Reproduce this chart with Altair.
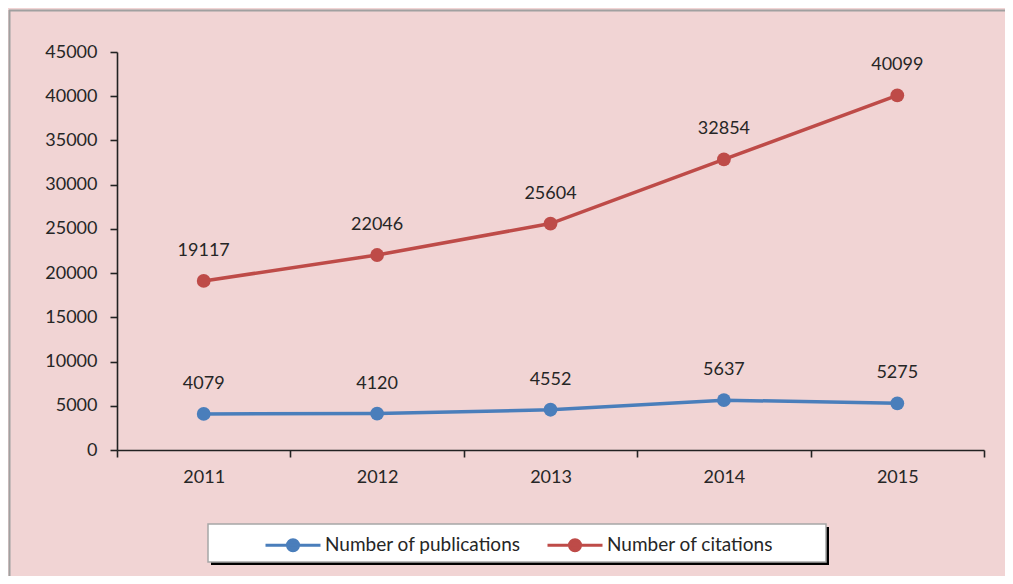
import altair as alt
import pandas as pd

years = ["2011", "2012", "2013", "2014", "2015"]
publications = [4079, 4120, 4552, 5637, 5275]
citations = [19117, 22046, 25604, 32854, 40099]
series_names = ["Number of publications", "Number of citations"]
series_colors = ["#4A7EBB", "#BE4B48"]
y_ticks = list(range(0, 45001, 5000))

rows = []
for name, vals in zip(series_names, [publications, citations]):
    for yr, v in zip(years, vals):
        rows.append({"year": yr, "value": v, "series": name})
df = pd.DataFrame(rows)

FONT = "Lato"
TXT = "#262626"
BG = "#F1D4D4"

x_enc = alt.X(
    "year:O",
    sort=years,
    scale=alt.Scale(type="band", paddingInner=0, paddingOuter=0),
    bandPosition=0.5,
    axis=alt.Axis(
        title=None, labelAngle=0, tickBand="extent", tickSize=7,
        labelPadding=11, labelFont=FONT, labelFontSize=18, labelColor=TXT,
        domainColor="#222222", tickColor="#222222", domainWidth=1.6, tickWidth=1.6,
        grid=False,
    ),
)
y_enc = alt.Y(
    "value:Q",
    scale=alt.Scale(domain=[0, 45000], nice=False),
    axis=alt.Axis(
        title=None, values=y_ticks, format="d", tickSize=7, labelPadding=13,
        labelFont=FONT, labelFontSize=18, labelColor=TXT,
        domainColor="#222222", tickColor="#222222", domainWidth=1.6, tickWidth=1.6,
        grid=False,
    ),
)

legend = alt.Legend(
    title=None, orient="none", direction="horizontal", legendX=147, legendY=464,
    symbolType="M-1,0L1,0M0.2,0A0.2,0.2,0,1,1,-0.2,0A0.2,0.2,0,1,1,0.2,0Z",
    symbolSize=3025, symbolStrokeWidth=3, labelOffset=3, columnPadding=20,
    labelFont=FONT, labelFontSize=19, labelColor=TXT, padding=0, labelLimit=0,
)
col_scale = alt.Scale(domain=series_names, range=series_colors)

base = alt.Chart(df)
lines = base.mark_line(strokeWidth=3.5).encode(
    x=x_enc, y=y_enc,
    stroke=alt.Stroke("series:N", scale=col_scale, legend=legend, sort=series_names),
)
points = base.mark_circle(size=190, opacity=1).encode(
    x=x_enc, y=y_enc,
    fill=alt.Fill("series:N", scale=col_scale, legend=legend, sort=series_names),
)
labels = base.mark_text(dy=-30, font=FONT, fontSize=18, color=TXT).encode(
    x=x_enc, y=y_enc, text=alt.Text("value:Q", format="d"),
)

one = alt.Chart(pd.DataFrame({"k": [0]}))
shadow = one.mark_rect(color="#000000").encode(
    x=alt.value(94), x2=alt.value(712), y=alt.value(475), y2=alt.value(513)
)
box = one.mark_rect(fill="#FFFFFF", stroke="#A6A6A6", strokeWidth=1.5).encode(
    x=alt.value(91), x2=alt.value(709), y=alt.value(472), y2=alt.value(510)
)
frame_v = one.mark_rule(color="#A0A0A0", strokeWidth=2).encode(
    x=alt.value(-107.5), y=alt.value(-42), y2=alt.value(540)
)
frame_h = one.mark_rule(color="#A0A0A0", strokeWidth=2).encode(
    x=alt.value(-108), x2=alt.value(900), y=alt.value(-41.5)
)

chart = alt.layer(frame_v, frame_h, shadow, box, lines, points, labels).properties(
    width=867, height=398, background=BG,
    padding={"left": 109, "top": 44, "right": 21, "bottom": 126},
    autosize=alt.AutoSizeParams(type="none"),
).configure_view(stroke=None)

chart.save("out.html", embed_options={"renderer": "svg", "actions": False})
